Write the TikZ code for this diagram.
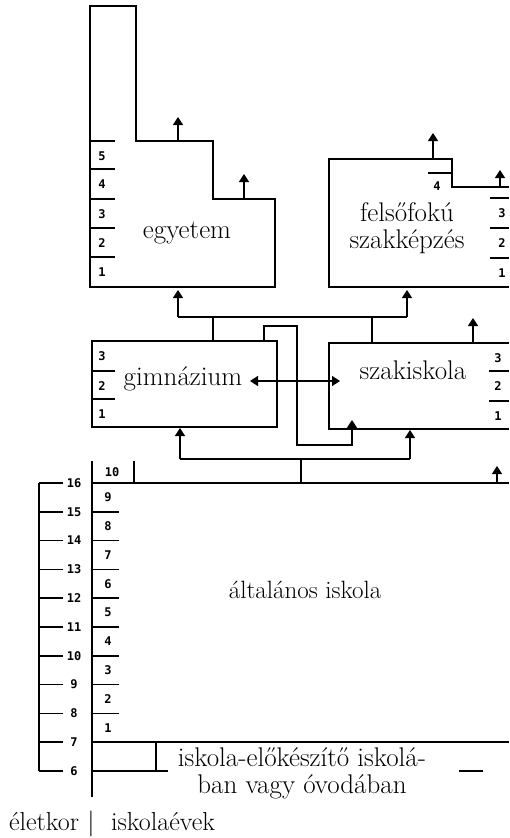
\documentclass[tikz,border=0pt]{standalone}
\usepackage{fontspec}
\newfontfamily\digfont{DejaVu Sans Mono}
\usetikzlibrary{arrows.meta}
\tikzset{
    year/.style={font=\digfont\bfseries\fontsize{12}{12}\selectfont, inner sep=0pt},
    txt/.style={font=\fontsize{27}{27}\selectfont, align=center, inner sep=0pt, anchor=base},
}
\begin{document}
\begin{tikzpicture}[>={Triangle[width=10pt,length=8pt]}, x=1pt, y=-1pt, line width=1.5pt]
\useasboundingbox (0,0) rectangle (509,838);
% egyetem
\draw (90,6)--(136,6)--(136,141)--(213,141)--(213,199)--(275,199)--(275,287)--(90,287)--cycle;
\foreach \y/\n in {141/5,169/4,199/3,228/2,257/1}
{
    \draw (90,\y)--(115,\y);
    \node[year] (egy\n) at (102,\y+15) {\n};
}
\node[txt] (egy) at (187,238) {egyetem};
\coordinate (egyS1) at (178,141); \coordinate (egyU1) at (178,117);
\coordinate (egyS2) at (244,199); \coordinate (egyU2) at (244,174);
\draw[->] (egyS1)--(egyU1);
\draw[->] (egyS2)--(egyU2);
% felsofoku szakkepzes
\draw (509,187)--(452,187)--(452,159)--(329,159)--(329,287)--(509,287);
\draw (428,173)--(452,173);
\node[year] (fel4) at (437,186) {4};
\foreach \y/\n in {198/3,228/2,258/1}
{
    \draw (490,\y)--(509,\y);
    \node[year] (fel\n) at (502,\y+15) {\n};
}
\node[txt] (fel) at (407,248) {felsőfokú\\szakképzés};
\coordinate (felS1) at (433,159); \coordinate (felU1) at (433,133);
\coordinate (felS2) at (500,187); \coordinate (felU2) at (500,170);
\draw[->] (felS1)--(felU1);
\draw[->] (felS2)--(felU2);
% gimnazium
\draw (92,341) rectangle (277,427);
\foreach \y/\n in {341/3,371/2,399/1}
{
    \node[year] (gim\n) at (102,\y+15) {\n};
}
\draw (92,371)--(115,371); \draw (92,399)--(115,399);
\node[txt] (gim) at (183,385) {gimnázium};
% szakiskola
\draw (509,343)--(329,343)--(329,429)--(509,429);
\foreach \y/\n in {343/3,371/2,401/1}
{
    \node[year] (szak\n) at (498,\y+15) {\n};
}
\draw (489,371)--(509,371); \draw (489,401)--(509,401);
\node[txt] (szak) at (413,379) {szakiskola};
\coordinate (szakS) at (473,343); \coordinate (szakU) at (473,318);
\draw[->] (szakS)--(szakU);
\coordinate (kiL) at (250,381); \coordinate (kiR) at (340,381);
\draw[<->] (kiL)--(kiR);
% upward connectors
\coordinate (gimT) at (213,341); \coordinate (szakT) at (372,343);
\coordinate (upL) at (178,317); \coordinate (upR) at (407,317);
\coordinate (egyB) at (178,290); \coordinate (felB) at (407,290);
\draw (upL)--(upR);
\draw (gimT)--(gimT |- upL);
\draw (szakT)--(szakT |- upL);
\draw[->] (upL)--(egyB);
\draw[->] (upR)--(felB);
\coordinate (gimT2) at (264,341); \coordinate (szakB2) at (352,420);
\draw[->] (gimT2)--(264,326)--(297,326)--(297,445)--(352,445)--(szakB2);
\coordinate (altT) at (301,483);
\coordinate (dnL) at (180,459); \coordinate (dnR) at (410,459);
\coordinate (gimB) at (180,428); \coordinate (szakB) at (410,430);
\draw (altT)--(altT |- dnL);
\draw (dnL)--(dnR);
\draw[->] (dnL)--(gimB);
\draw[->] (dnR)--(szakB);
% altalanos iskola
\draw (92,483)--(509,483);
\draw (92,461)--(92,797);
\draw (134,461)--(134,483);
\node[year] (alt10) at (112,472) {10};
\coordinate (altS) at (497,483); \coordinate (altU) at (497,466);
\draw[->] (altS)--(altU);
\foreach \k in {1,...,8}
{
    \draw (92,{483+\k*28.8})--(119,{483+\k*28.8});
}
\foreach \n [count=\k] in {9,8,...,1}
{
    \node[year] (alt\n) at (108,{483+(\k-0.5)*28.8}) {\n};
}
\draw (92,742)--(509,742);
\node[txt, font=\fontsize{25}{25}\selectfont] (alt) at (305,598) {általános iskola};
% eletkor
\draw (39,483)--(39,771);
\foreach \a [count=\k from 0] in {16,15,...,6}
{
    \draw (39,{483+\k*28.8})--(63,{483+\k*28.8});
    \node[year] (kor\a) at (74,{483+\k*28.8}) {\a};
}
% iskola-elokeszito
\draw (156,742)--(156,771);
\draw (92,771)--(168,771);
\draw (459,771)--(483,771);
\node[txt] (elo) at (302,793) {iskola-előkészítő iskolá-\\ban vagy óvodában};
\node[txt, font=\fontsize{26}{26}\selectfont] (kor) at (44,830) {életkor};
\node[txt, font=\fontsize{26}{26}\selectfont] (sep) at (91,830) {|};
\node[txt, font=\fontsize{26}{26}\selectfont] (evek) at (163,830) {iskolaévek};
\end{tikzpicture}
\end{document}
